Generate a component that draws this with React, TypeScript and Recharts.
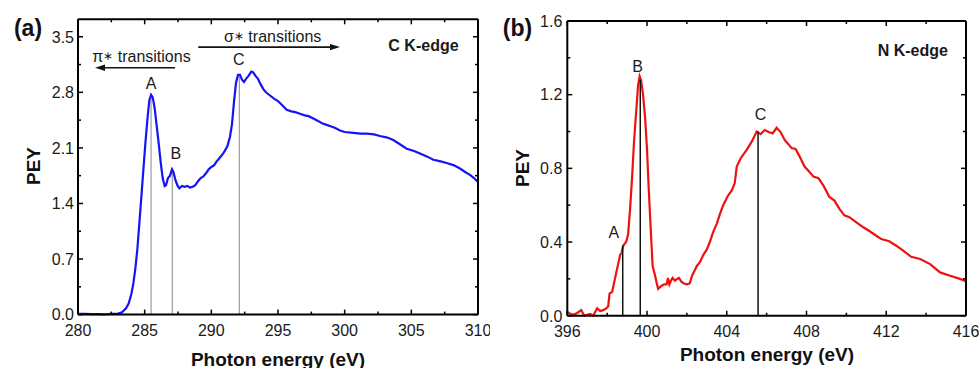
import React from 'react';
import { LineChart, Line, XAxis, YAxis, ReferenceLine, ReferenceDot } from 'recharts';

// ---------- C K-edge (panel a) ----------
const cEnergy = [
  280.0, 280.5, 281.0, 281.5, 282.0, 282.5, 283.0, 283.3, 283.6, 283.8, 284.0, 284.15, 284.3, 284.45,
  284.6, 284.75, 284.9, 285.05, 285.2, 285.35, 285.48, 285.6, 285.75, 285.9, 286.05, 286.2, 286.35,
  286.5, 286.6, 286.75, 286.9, 287.05, 287.15, 287.3, 287.45, 287.6, 287.8, 288.0, 288.2, 288.4,
  288.6, 288.8, 289.0, 289.2, 289.4, 289.6, 289.8, 290.0, 290.2, 290.4, 290.6, 290.8, 291.0, 291.2,
  291.4, 291.55, 291.7, 291.85, 292.0, 292.15, 292.3, 292.45, 292.6, 292.8, 293.0, 293.15, 293.3,
  293.5, 293.7, 293.9, 294.1, 294.4, 294.7, 295.0, 295.3, 295.65, 296.0, 296.3, 296.65, 297.0, 297.3,
  297.65, 298.0, 298.3, 298.65, 299.0, 299.3, 299.65, 300.0, 300.65, 301.2, 301.65, 302.2, 302.65,
  303.2, 303.65, 304.2, 304.65, 305.2, 305.65, 306.2, 306.65, 307.2, 307.65, 308.2, 308.65, 309.0,
  309.4, 309.7, 310.0,
];
const cPey = [
  0.01, 0.008, 0.005, 0.006, 0.004, 0.008, 0.012, 0.03, 0.08, 0.14, 0.26, 0.39, 0.58, 0.82,
  1.15, 1.48, 1.82, 2.15, 2.45, 2.7, 2.77, 2.74, 2.6, 2.38, 2.16, 1.92, 1.72,
  1.62, 1.63, 1.72, 1.75, 1.83, 1.8, 1.7, 1.63, 1.59, 1.62, 1.61, 1.62, 1.6,
  1.61, 1.63, 1.68, 1.72, 1.74, 1.78, 1.83, 1.86, 1.88, 1.93, 1.97, 2.01, 2.06, 2.12,
  2.24, 2.4, 2.68, 2.92, 3.02, 3.02, 2.96, 2.93, 2.97, 3.01, 3.06, 3.05, 3.01,
  2.97, 2.9, 2.84, 2.8, 2.76, 2.72, 2.69, 2.64, 2.58, 2.56, 2.55, 2.53, 2.51, 2.5,
  2.47, 2.44, 2.41, 2.39, 2.37, 2.35, 2.32, 2.3, 2.29, 2.28, 2.28, 2.27, 2.25,
  2.23, 2.2, 2.14, 2.09, 2.06, 2.03, 1.99, 1.95, 1.93, 1.91, 1.88, 1.84, 1.8,
  1.76, 1.72, 1.67,
];
const cXMajor = [280, 285, 290, 295, 300, 305, 310];
const cXMinor = [282.5, 287.5, 292.5, 297.5, 302.5, 307.5];
const cYMajor = [0, 0.7, 1.4, 2.1, 2.8, 3.5];
const cYMinor = [0.35, 1.05, 1.75, 2.45, 3.15];
const cPeakNames = ['A', 'B', 'C'];
const cPeakEnergy = [285.48, 287.07, 292.1];
const cPeakHeight = [2.76, 1.82, 3.0];

// ---------- N K-edge (panel b) ----------
const nEnergy = [
  396.0, 396.15, 396.3, 396.5, 396.7, 396.85, 397.0, 397.15, 397.3, 397.5, 397.65, 397.8, 397.95,
  398.05, 398.12, 398.25, 398.35, 398.45, 398.55, 398.65, 398.72, 398.8, 398.95, 399.05, 399.15,
  399.25, 399.35, 399.45, 399.55, 399.63, 399.7, 399.8, 399.9, 400.0, 400.08, 400.18, 400.28, 400.4,
  400.5, 400.56, 400.7, 400.85, 400.98, 401.05, 401.12, 401.2, 401.28, 401.4, 401.5, 401.6, 401.72,
  401.85, 402.0, 402.14, 402.25, 402.5, 402.65, 402.82, 403.0, 403.15, 403.3, 403.5, 403.65, 403.82,
  404.05, 404.25, 404.4, 404.5, 404.7, 405.0, 405.25, 405.5, 405.7, 405.9, 406.1, 406.3, 406.5,
  406.7, 406.9, 407.1, 407.25, 407.45, 407.65, 407.9, 408.15, 408.35, 408.6, 408.85, 409.15, 409.4,
  409.65, 409.9, 410.15, 410.5, 410.85, 411.15, 411.5, 411.75, 412.15, 412.5, 412.85, 413.25, 413.7,
  414.2, 414.7, 415.2, 415.7, 416.0,
];
const nPey = [
  0.02, 0.01, 0.005, 0.015, 0.03, 0.0, 0.005, 0.01, 0.0, 0.04, 0.025, 0.03, 0.04,
  0.05, 0.12, 0.13, 0.18, 0.23, 0.28, 0.33, 0.34, 0.38, 0.4, 0.44, 0.58,
  0.75, 0.95, 1.1, 1.25, 1.3, 1.28, 1.2, 1.08, 0.9, 0.7, 0.48, 0.27, 0.22,
  0.17, 0.145, 0.16, 0.17, 0.17, 0.205, 0.17, 0.19, 0.205, 0.19, 0.2, 0.205, 0.185,
  0.175, 0.17, 0.175, 0.215, 0.27, 0.29, 0.33, 0.36, 0.4, 0.45, 0.5, 0.55, 0.6,
  0.65, 0.68, 0.72, 0.81, 0.855, 0.9, 0.945, 1.0, 0.986, 1.008, 0.997, 0.99, 1.02,
  0.997, 0.955, 0.93, 0.91, 0.905, 0.865, 0.81, 0.78, 0.755, 0.746, 0.706, 0.645, 0.625,
  0.58, 0.545, 0.535, 0.507, 0.48, 0.46, 0.434, 0.416, 0.404, 0.38, 0.353, 0.32, 0.308,
  0.28, 0.235, 0.217, 0.2, 0.187,
];
const nXMajor = [396, 400, 404, 408, 412, 416];
const nXMinor = [398, 402, 406, 410, 414];
const nYMajor = [0, 0.4, 0.8, 1.2, 1.6];
const nYMinor = [0.2, 0.6, 1.0, 1.4];
const nPeakNames = ['A', 'B', 'C'];
const nPeakEnergy = [398.78, 399.66, 405.57];
const nPeakHeight = [0.38, 1.28, 1.0];

const cData = cEnergy.map((x, i) => ({ x, y: cPey[i] }));
const nData = nEnergy.map((x, i) => ({ x, y: nPey[i] }));

const FONT = "'Liberation Sans', Arial, Helvetica, sans-serif";
const TXT = '#1a1a1a';
const PAD = 10; // thickness reserved for the mirrored top / right axis lines

// plot-area sizes (pixels), used to mirror ticks on the top and right frame edges
const A_W = 490, A_H = 368, A_TOP = 19.3, A_LW = 78, A_R = 12, A_XH = 53.4;
const B_W = 489, B_H = 368, B_TOP = 21, B_LW = 77.3, B_R = 13, B_XH = 52.3;
const A_PW = A_W - A_LW - A_R;
const A_PH = A_H - A_TOP - A_XH;
const B_PW = B_W - B_LW - B_R;
const B_PH = B_H - B_TOP - B_XH;

function makeXTick(major: number[], span: number) {
  return (props: any) => {
    const { x, y, payload } = props;
    const v = payload.value as number;
    const isMajor = major.some((m) => Math.abs(m - v) < 1e-6);
    const len = isMajor ? 5 : 3;
    const top = y - span;
    return (
      <g>
        <line x1={x} y1={y} x2={x} y2={y - len} stroke="#000" strokeWidth={1.5} />
        <line x1={x} y1={top} x2={x} y2={top + len} stroke="#000" strokeWidth={1.5} />
        {isMajor && (
          <text x={x} y={y + 21.5} textAnchor="middle" fontSize={16} fontFamily={FONT} fill={TXT}>
            {String(v)}
          </text>
        )}
      </g>
    );
  };
}

function makeYTick(major: number[], span: number, gap: number) {
  return (props: any) => {
    const { x, y, payload } = props;
    const v = payload.value as number;
    const isMajor = major.some((m) => Math.abs(m - v) < 1e-6);
    const len = isMajor ? 5 : 3;
    const right = x + span;
    return (
      <g>
        <line x1={x} y1={y} x2={x + len} y2={y} stroke="#000" strokeWidth={1.5} />
        <line x1={right} y1={y} x2={right - len} y2={y} stroke="#000" strokeWidth={1.5} />
        {isMajor && (
          <text x={x - gap} y={y + 5.8} textAnchor="end" fontSize={16} fontFamily={FONT} fill={TXT}>
            {v.toFixed(1)}
          </text>
        )}
      </g>
    );
  };
}

const arrowShape = (props: any) => {
  const { x1, y1, x2, y2 } = props;
  const dx = x2 - x1;
  const dy = y2 - y1;
  const L = Math.sqrt(dx * dx + dy * dy) || 1;
  const ux = dx / L;
  const uy = dy / L;
  const hl = 10;
  const hw = 3.2;
  const bx = x2 - ux * hl;
  const by = y2 - uy * hl;
  const pts = `${x2},${y2} ${bx - uy * hw},${by + ux * hw} ${bx + uy * hw},${by - ux * hw}`;
  return (
    <g>
      <line x1={x1} y1={y1} x2={bx} y2={by} stroke="#111" strokeWidth={1.6} />
      <polygon points={pts} fill="#111" />
    </g>
  );
};

const textShape = (label: string, size: number, bold: boolean) => (props: any) => (
  <text
    x={props.cx}
    y={props.cy}
    textAnchor="middle"
    dominantBaseline="central"
    fontSize={size}
    fontWeight={bold ? 'bold' : 'normal'}
    fontFamily={FONT}
    fill={TXT}
  >
    {label}
  </text>
);

const transShape = (greek: string) => (props: any) => (
  <text
    x={props.cx}
    y={props.cy}
    textAnchor="middle"
    dominantBaseline="central"
    fontSize={16}
    fontFamily={FONT}
    fill={TXT}
  >
    <tspan>{greek}</tspan>
    <tspan fontSize={11.5}>∗</tspan>
    <tspan> transitions</tspan>
  </text>
);

const axisLine = { stroke: '#000', strokeWidth: 2 };

const divText = (
  text: string,
  left: number,
  top: number,
  size: number,
  rotate = false
): React.ReactElement => (
  <div
    style={{
      position: 'absolute',
      left,
      top,
      transform: `translate(-50%, -50%)${rotate ? ' rotate(-90deg)' : ''}`,
      fontFamily: FONT,
      fontWeight: 'bold',
      fontSize: size,
      lineHeight: 1,
      whiteSpace: 'nowrap',
      color: '#111',
    }}
  >
    {text}
  </div>
);

function PanelA() {
  const xt = [...cXMajor, ...cXMinor].sort((a, b) => a - b);
  const yt = [...cYMajor, ...cYMinor].sort((a, b) => a - b);
  const xDom: [number, number] = [280, 310];
  const yDom: [number, number] = [0, 3.72];
  return (
    <LineChart width={A_W} height={A_H} data={cData} margin={{ top: A_TOP - PAD, right: A_R - PAD, bottom: 0, left: 0 }}>
      <XAxis
        dataKey="x"
        type="number"
        domain={xDom}
        ticks={xt}
        interval={0}
        tickLine={false}
        tickSize={0}
        tickMargin={0}
        height={A_XH}
        axisLine={axisLine}
        tick={makeXTick(cXMajor, A_PH)}
      />
      <XAxis xAxisId="top" orientation="top" type="number" domain={xDom} ticks={cXMajor} tickLine={false} tick={false} height={PAD} axisLine={axisLine} />
      <YAxis
        type="number"
        domain={yDom}
        ticks={yt}
        interval={0}
        tickLine={false}
        tickSize={0}
        tickMargin={0}
        width={A_LW}
        axisLine={axisLine}
        tick={makeYTick(cYMajor, A_PW, 4)}
      />
      <YAxis yAxisId="right" orientation="right" type="number" domain={yDom} ticks={cYMajor} tickLine={false} tick={false} width={PAD} axisLine={axisLine} />
      {cPeakEnergy.map((e, i) => (
        <ReferenceLine
          key={'cl' + i}
          segment={[
            { x: e, y: 0 },
            { x: e, y: cPeakHeight[i] },
          ]}
          stroke="#9a9a9a"
          strokeWidth={1.2}
        />
      ))}
      <Line dataKey="y" stroke="#1414f5" strokeWidth={2.2} dot={false} isAnimationActive={false} />
      <ReferenceLine
        segment={[
          { x: 289.02, y: 3.37 },
          { x: 299.65, y: 3.37 },
        ]}
        shape={arrowShape}
      />
      <ReferenceLine
        segment={[
          { x: 287.28, y: 3.11 },
          { x: 281.28, y: 3.11 },
        ]}
        shape={arrowShape}
      />
      <ReferenceDot x={294.6} y={3.506} r={0} shape={transShape('σ')} />
      <ReferenceDot x={284.76} y={3.254} r={0} shape={transShape('π')} />
      <ReferenceDot x={305.91} y={3.39} r={0} shape={textShape('C K-edge', 16, true)} />
      {cPeakNames.map((n, i) => (
        <ReferenceDot
          key={'cn' + i}
          x={[285.48, 287.33, 292.05][i]}
          y={[2.915, 2.034, 3.216][i]}
          r={0}
          shape={textShape(n, 16, false)}
        />
      ))}
    </LineChart>
  );
}

function PanelB() {
  const xt = [...nXMajor, ...nXMinor].sort((a, b) => a - b);
  const yt = [...nYMajor, ...nYMinor].sort((a, b) => a - b);
  const xDom: [number, number] = [396, 416];
  const yDom: [number, number] = [0, 1.6];
  return (
    <LineChart width={B_W} height={B_H} data={nData} margin={{ top: B_TOP - PAD, right: B_R - PAD, bottom: 0, left: 0 }}>
      <XAxis
        dataKey="x"
        type="number"
        domain={xDom}
        ticks={xt}
        interval={0}
        tickLine={false}
        tickSize={0}
        tickMargin={0}
        height={B_XH}
        axisLine={axisLine}
        tick={makeXTick(nXMajor, B_PH)}
      />
      <XAxis xAxisId="top" orientation="top" type="number" domain={xDom} ticks={nXMajor} tickLine={false} tick={false} height={PAD} axisLine={axisLine} />
      <YAxis
        type="number"
        domain={yDom}
        ticks={yt}
        interval={0}
        tickLine={false}
        tickSize={0}
        tickMargin={0}
        width={B_LW}
        axisLine={axisLine}
        tick={makeYTick(nYMajor, B_PW, 5)}
      />
      <YAxis yAxisId="right" orientation="right" type="number" domain={yDom} ticks={nYMajor} tickLine={false} tick={false} width={PAD} axisLine={axisLine} />
      <Line dataKey="y" stroke="#f01010" strokeWidth={2.2} dot={false} isAnimationActive={false} />
      {nPeakEnergy.map((e, i) => (
        <ReferenceLine
          key={'nl' + i}
          segment={[
            { x: e, y: 0 },
            { x: e, y: nPeakHeight[i] },
          ]}
          stroke="#111"
          strokeWidth={1.5}
        />
      ))}
      <ReferenceDot x={413.33} y={1.442} r={0} shape={textShape('N K-edge', 16, true)} />
      {nPeakNames.map((n, i) => (
        <ReferenceDot
          key={'nn' + i}
          x={[398.34, 399.53, 405.69][i]}
          y={[0.453, 1.352, 1.09][i]}
          r={0}
          shape={textShape(n, 16, false)}
        />
      ))}
    </LineChart>
  );
}

export default function App() {
  return (
    <div
      style={{
        position: 'absolute',
        left: 0,
        top: 0,
        width: 979,
        height: 368,
        background: '#fff',
        overflow: 'hidden',
      }}
    >
      <div style={{ position: 'absolute', left: 0, top: 0 }}>
        <PanelA />
      </div>
      <div style={{ position: 'absolute', left: 490, top: 0 }}>
        <PanelB />
      </div>
      {divText('(a)', 28, 28, 23)}
      {divText('(b)', 517.5, 28, 23)}
      {divText('Photon energy (eV)', 278, 359, 19)}
      {divText('Photon energy (eV)', 767, 354, 19)}
      {divText('PEY', 33, 166, 19, true)}
      {divText('PEY', 521.5, 168, 19, true)}
    </div>
  );
}
